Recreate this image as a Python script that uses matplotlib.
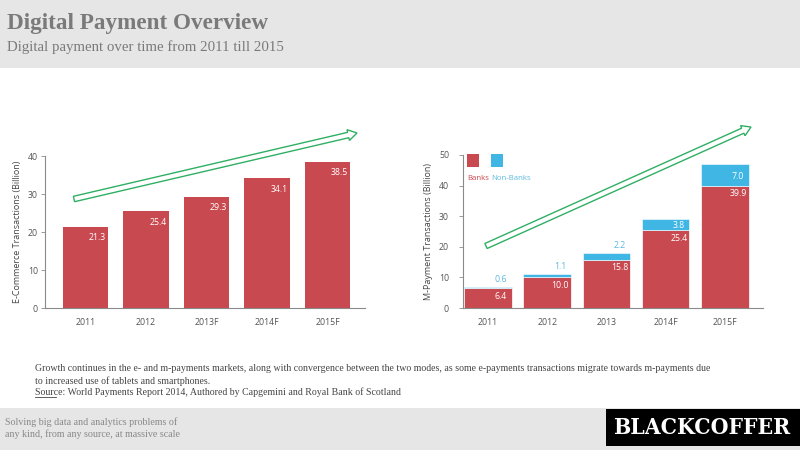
import matplotlib.pyplot as plt
from matplotlib.patches import Rectangle, FancyArrow

# data
ecom_years = ["2011", "2012", "2013F", "2014F", "2015F"]
ecom_values = [21.3, 25.4, 29.3, 34.1, 38.5]

mpay_years = ["2011", "2012", "2013", "2014F", "2015F"]
banks = [6.4, 10.0, 15.8, 25.4, 39.9]
non_banks = [0.6, 1.1, 2.2, 3.8, 7.0]

RED = "#C8494F"
BLUE = "#3FB6E3"
LBLUE = "#5DB9DF"
GREEN = "#2FAF63"
SANS = "Open Sans"
SERIF = "Liberation Serif"

fig = plt.figure(figsize=(8, 4.5), dpi=100)

# background layer: header / footer bands
bg = fig.add_axes([0, 0, 1, 1], zorder=0)
bg.set_xlim(0, 800)
bg.set_ylim(450, 0)
bg.axis("off")
bg.add_patch(Rectangle((0, 0), 800, 68, color="#E6E6E6", lw=0))
bg.add_patch(Rectangle((0, 408), 800, 42, color="#E6E6E6", lw=0))
bg.add_patch(Rectangle((606, 409), 194, 37, color="black", lw=0))

bg.text(7, 23, "Digital Payment Overview", family=SERIF, weight="bold",
        fontsize=16.7, color="#7A7A7A", va="center")
bg.text(7, 47, "Digital payment over time from 2011 till 2015", family=SERIF,
        fontsize=10.7, color="#7A7A7A", va="center")

body = ("Growth continues in the e- and m-payments markets, along with convergence between the two modes, "
        "as some e-payments transactions migrate towards m-payments due\n"
        "to increased use of tablets and smartphones.")
bg.text(35, 375, body, family=SERIF, fontsize=7.15, color="#444444",
        va="center", linespacing=1.35)
bg.text(35, 392, "Source: World Payments Report 2014, Authored by Capgemini and Royal Bank of Scotland",
        family=SERIF, fontsize=7.15, color="#444444", va="center")
bg.plot([35, 56], [396.5, 396.5], color="#444444", lw=0.6)

bg.text(5, 428, "Solving big data and analytics problems of\nany kind, from any source, at massive scale",
        family=SERIF, fontsize=7.2, color="#888888", va="center", linespacing=1.35)
bg.text(702, 428.5, "BLACKCOFFER", family="DejaVu Serif", fontstretch="condensed",
        weight="bold", fontsize=16.4, color="white", ha="center", va="center")


def style_axes(ax, ylabel, ymax, step, pad):
    ax.set_ylim(0, ymax)
    ax.set_yticks(range(0, ymax + 1, step))
    for side in ["top", "right"]:
        ax.spines[side].set_visible(False)
    for side in ["left", "bottom"]:
        ax.spines[side].set_color("#8A8A8A")
        ax.spines[side].set_linewidth(0.8)
    ax.tick_params(axis="x", length=0, labelsize=6.3, colors="#555555", pad=7)
    ax.tick_params(axis="y", length=3, width=0.6, labelsize=6.3, colors="#555555",
                   pad=pad, color="#8A8A8A")
    for lab in ax.get_xticklabels() + ax.get_yticklabels():
        lab.set_family(SANS)
    ax.set_ylabel(ylabel, family=SANS, fontsize=6.5, color="#444444", labelpad=4)
    ax.patch.set_alpha(0)


# left chart: e-commerce
ax1 = fig.add_axes([45 / 800, 1 - 308 / 450, 320 / 800, 152 / 450], zorder=1)
x1 = list(range(len(ecom_years)))
ax1.bar(x1, ecom_values, width=0.75, color=RED)
ax1.set_xlim(-0.67, 4.62)
ax1.set_xticks(x1)
ax1.set_xticklabels(ecom_years)
style_axes(ax1, "E-Commerce Transactions (Billion)", 40, 10, 2)
for xi, v in zip(x1, ecom_values):
    ax1.text(xi + 0.2, v - 2.8, f"{v:.1f}", ha="center", va="center",
             fontsize=6.3, color="white", family=SANS)

# right chart: m-payments
ax2 = fig.add_axes([463 / 800, 1 - 308 / 450, 300 / 800, 153 / 450], zorder=1)
x2 = list(range(len(mpay_years)))
ax2.bar(x2, banks, width=0.8, color=RED, edgecolor="white", linewidth=0.5)
ax2.bar(x2, non_banks, width=0.8, bottom=banks, color=BLUE,
        edgecolor="white", linewidth=0.4)
ax2.set_xlim(-0.42, 4.64)
ax2.set_xticks(x2)
ax2.set_xticklabels(mpay_years)
style_axes(ax2, "M-Payment Transactions (Billion)", 50, 10, 7)
for xi, b, n in zip(x2, banks, non_banks):
    ax2.text(xi + 0.22, b - 2.6, f"{b:.1f}", ha="center", va="center",
             fontsize=6.3, color="white", family=SANS)
    if n < 3:
        ax2.text(xi + 0.22, b + n + 2.4, f"{n:.1f}", ha="center", va="center",
                 fontsize=6.3, color=LBLUE, family=SANS)
    else:
        ax2.text(xi + 0.22, b + n / 2 - 0.5, f"{n:.1f}", ha="center", va="center",
                 fontsize=6.3, color="white", family=SANS)

# top overlay: trend arrows and legend
ov = fig.add_axes([0, 0, 1, 1], zorder=2)
ov.set_xlim(0, 800)
ov.set_ylim(450, 0)
ov.axis("off")
ov.patch.set_alpha(0)
for (tx, ty, hx, hy) in [(74, 199, 357, 133), (486, 246, 751, 127)]:
    ov.add_patch(FancyArrow(tx, ty, hx - tx, hy - ty, width=5.5, head_width=11,
                            head_length=9, length_includes_head=True,
                            fc="white", ec=GREEN, lw=1))

ov.add_patch(Rectangle((467, 154), 12, 13, color=RED, lw=0))
ov.add_patch(Rectangle((491, 154), 12, 13, color=BLUE, lw=0))
ov.text(467, 179, "Banks", fontsize=5.6, color=RED, family=SANS, va="center")
ov.text(491, 179, "Non-Banks", fontsize=5.6, color=LBLUE, family=SANS, va="center")

fig.savefig("out.png", dpi=100)
